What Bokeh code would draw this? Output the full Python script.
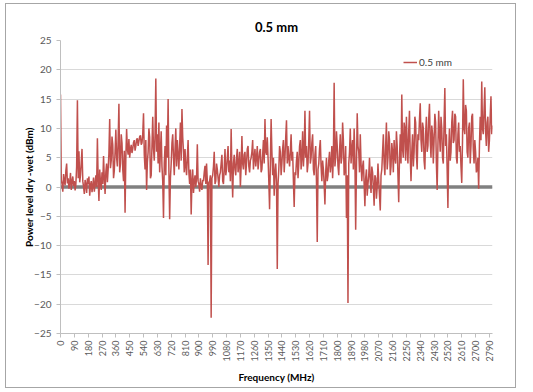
from math import pi

from bokeh.plotting import figure
from bokeh.models import Range1d, FixedTicker, Span, Legend, LegendItem
from bokeh.embed import file_html
from bokeh.resources import INLINE

FONT = "Lato"

# Sweep frequencies (MHz), one reading every 5 MHz
freq_mhz = list(range(0, 2815, 5))

# Power level difference dry - wet (dBm), by band
power_0_895 = [
    15.8, 1.2, 0.5, -0.8, 2.2, 1.0, 0.3, 2.8, 4.0, 0.6, 1.5, -0.3, 0.8, 2.4, -0.5, 0.9, 1.8, 0.2,
    1.0, -0.6, 0.5, 3.5, 14.8, 1.5, 6.1, 0.8, 2.0, 4.2, 6.5, 1.0, 0.0, -1.2, 1.2, 0.4, -1.0, 1.5,
    0.5, 1.8, -1.5, 0.3, 1.0, -0.9, 0.2, 1.6, -0.8, 0.5, 2.0, 0.0, 8.3, 1.2, -2.4, 3.0, 0.8, -0.5,
    2.5, 0.5, 5.3, 1.5, -1.2, 2.6, 4.0, 0.8, 3.0, 5.8, 11.6, 3.2, 4.5, 8.6, 7.2, 1.5, 2.8, 6.0,
    9.8, 5.0, 3.5, 8.0, 14.2, 2.5, 4.0, 9.0, 7.5, 3.0, 1.0, 6.2, -4.4, 5.0, 9.9, 6.5, 5.5, 8.2,
    5.0, 6.4, 7.2, 5.8, 6.5, 7.6, 8.0, 6.2, 7.0, 8.1, 8.3, 7.0, 7.8, 8.6, 8.8, 7.2, 7.5, 9.0,
    12.6, 5.5, 3.0, 8.0, -0.5, 4.2, 6.0, 10.0, 8.5, 1.5, 2.0, 7.0, 12.0, 6.5, 4.5, 9.0, 18.5, 6.0,
    9.0, 4.0, 11.0, 2.5, 6.0, 9.5, 3.5, 1.0, -5.3, 4.0, 7.0, 2.0, 10.5, 5.0, 15.0, 3.0, -5.5, 1.5,
    4.0, 7.5, 9.0, 5.0, 2.0, 6.5, 10.0, 3.5, 8.0, 5.5, 3.0, 7.0, 11.0, 4.5, 13.3, 8.5, 6.0, 2.5,
    6.5, 3.5, 2.0, 5.0, 8.0, 2.5, 0.5, 3.0, -4.7, 1.0, 3.0, -1.0, 1.0, 2.0, 0.0, 1.5, 7.3, 1.0,
]
power_900_1795 = [
    0.5, -0.8, 1.5, 0.0, -0.5, 1.2, 1.0, 2.5, 3.6, 0.5, 4.0, 1.0, -13.3, 0.8, 1.0, 2.0, -22.3, 1.5,
    2.0, 3.5, 6.0, 0.5, 1.0, 4.0, 3.0, 1.5, 0.0, 2.0, 2.5, 4.0, 5.5, 1.0, 0.5, 3.0, 6.5, 2.0,
    3.0, 5.0, 7.0, 2.5, 4.5, 1.0, 9.9, 3.0, -1.8, 4.0, 5.5, 3.0, 2.0, 5.0, 6.5, 2.5, 4.0, 6.0,
    0.0, 3.5, 8.7, 4.0, 3.0, 5.5, 6.0, 2.0, 4.0, 6.5, 7.0, 3.5, 2.5, 4.5, 5.0, 6.0, 8.0, 3.0,
    5.0, 6.5, 3.5, 5.0, 7.0, 3.0, 4.5, 6.0, 6.5, 2.5, 3.0, 5.5, 8.0, 4.0, 11.6, 6.0, 5.5, 8.5,
    5.0, 1.0, -3.8, 4.0, 11.6, 6.0, 2.0, 5.0, -1.5, 2.5, 4.0, 1.0, -14.0, 0.5, 3.0, 7.0, 6.0, 2.0,
    4.0, 6.5, 8.0, 2.5, 5.0, 8.5, 11.4, 4.0, 7.0, 5.0, 3.5, 6.0, 9.0, 4.5, 6.0, 1.0, -3.4, 2.5,
    2.0, 4.5, 6.0, 1.5, 4.0, 7.0, 8.0, 3.0, 5.0, 9.5, 3.5, 6.0, 13.0, 5.0, 7.0, 2.5, 4.0, 8.0,
    13.0, 4.0, 5.0, 7.5, 9.0, 3.0, 2.0, 5.5, 7.0, 1.0, -9.4, 3.0, 4.0, 6.5, 8.0, 3.5, 1.0, 4.5,
    3.0, 0.5, -3.0, 2.5, 5.0, 1.0, 2.0, 4.5, 6.0, 2.5, 4.0, 7.0, 1.5, 5.0, 17.8, 3.5, 5.0, 9.5,
]
power_1800_2810 = [
    7.0, 3.5, 2.0, 6.0, 9.0, 4.0, 5.0, 11.0, 8.0, 2.0, 3.0, 7.0, -5.3, 2.0, -19.8, 4.0, 6.0, 10.0,
    4.0, 6.5, 8.0, 3.0, 10.0, 5.0, -7.3, 3.0, 12.6, 7.0, 6.0, 2.5, 9.0, 4.0, 1.0, 3.5, 4.5, 0.5,
    -3.3, 1.5, 3.0, -1.5, 0.5, 2.0, 5.0, 1.0, -1.0, 3.5, 2.5, 0.0, -3.2, 2.0, 1.5, -2.0, 0.0, 4.0,
    1.0, -1.5, -4.0, 2.0, 3.0, 6.0, 9.0, 4.0, 2.0, 7.0, 11.0, 3.0, 5.0, 9.5, 8.0, 2.0, 3.5, 7.5,
    6.0, 2.5, 8.0, 5.0, 4.0, 9.5, 7.0, 2.0, -2.6, 5.0, 9.0, 4.0, 15.8, 6.5, 5.0, 11.0, 10.0, 4.5,
    12.0, 7.0, 4.0, 9.5, 13.0, 5.0, 1.0, 6.0, 9.0, 3.5, 6.0, 12.0, 11.0, 5.5, 3.0, 9.0, 8.0, 11.5,
    14.3, 8.0, 6.0, 11.0, 10.0, 4.5, 3.0, 9.0, 12.0, 6.0, 7.0, 11.5, 14.2, 8.0, 5.0, 10.5, 9.0, 4.0,
    8.0, 12.5, 11.0, 4.0, -0.5, 7.0, 13.0, 9.0, 6.0, 12.0, 10.0, 5.0, 4.0, 11.0, 16.9, 7.0, 9.0, 3.0,
    -3.6, 6.0, 10.0, 4.5, 6.0, 11.0, 13.0, 7.5, 8.0, 12.5, 12.0, 5.0, 4.0, 9.0, 11.0, 6.0, 7.0, 3.5,
    0.7, 8.0, 18.4, 10.0, 9.0, 14.0, 13.0, 6.0, 5.0, 10.0, 11.0, 4.0, 7.0, 12.0, 12.5, 6.5, 4.0, 8.0,
    6.0, 2.5, 3.0, 5.0, -0.3, 7.0, 12.0, 8.0, 18.0, 10.0, 9.0, 13.0, 17.0, 9.5, 7.0, 11.0, 12.0, 6.0,
    8.0, 12.0, 15.5, 9.0, 10.5,
]
power_dbm = power_0_895 + power_900_1795 + power_1800_2810

x_ticks = list(range(0, 2800, 90))
y_ticks = list(range(-25, 30, 5))

p = figure(
    width=511, height=385,
    output_backend="svg", toolbar_location=None,
    x_range=Range1d(0, 2810), y_range=Range1d(-25, 25),
    min_border_left=54, min_border_right=25,
    min_border_top=36, min_border_bottom=56,
)
p.margin = (3, 0, 0, 5)
p.styles = {"border": "1px solid #a6a6a6"}
p.outline_line_color = None
p.background_fill_color = "white"
p.border_fill_color = "white"

# Title
p.title.text = "0.5 mm"
p.title.align = "center"
p.title.offset = -10
p.title.standoff = 12
p.title.text_font = FONT
p.title.text_font_size = "13px"
p.title.text_font_style = "bold"
p.title.text_color = "#000000"

# Grid
p.xgrid.visible = False
p.ygrid.ticker = FixedTicker(ticks=y_ticks)
p.ygrid.grid_line_color = "#d9d9d9"
p.ygrid.grid_line_width = 1

# Y axis
p.yaxis.ticker = FixedTicker(ticks=y_ticks)
p.yaxis.axis_label = "Power level dry -wet (dBm)"
p.yaxis.axis_label_text_font = FONT
p.yaxis.axis_label_text_font_size = "10px"
p.yaxis.axis_label_text_font_style = "bold"
p.yaxis.axis_label_text_color = "#000000"
p.yaxis.axis_label_standoff = -4
p.yaxis.major_label_text_font = FONT
p.yaxis.major_label_text_font_size = "10px"
p.yaxis.major_label_text_color = "#595959"
p.yaxis.major_label_standoff = 5
p.yaxis.axis_line_color = "#bfbfbf"
p.yaxis.major_tick_line_color = "#bfbfbf"
p.yaxis.major_tick_out = 4
p.yaxis.major_tick_in = 0
p.yaxis.minor_tick_line_color = None

# X axis
p.xaxis.ticker = FixedTicker(ticks=x_ticks)
p.xaxis.axis_label = "Frequency (MHz)"
p.xaxis.axis_label_text_font = FONT
p.xaxis.axis_label_text_font_size = "10px"
p.xaxis.axis_label_text_font_style = "bold"
p.xaxis.axis_label_text_color = "#000000"
p.xaxis.axis_label_standoff = 7
p.xaxis.major_label_orientation = pi / 2
p.xaxis.major_label_text_font = FONT
p.xaxis.major_label_text_font_size = "9px"
p.xaxis.major_label_text_color = "#595959"
p.xaxis.major_label_standoff = 3
p.xaxis.axis_line_color = "#bfbfbf"
p.xaxis.major_tick_line_color = "#bfbfbf"
p.xaxis.major_tick_out = 4
p.xaxis.major_tick_in = 0
p.xaxis.minor_tick_line_color = None

# Zero reference line, under the series
p.add_layout(Span(location=0, dimension="width", line_color="#808080",
                  line_width=3.5, level="underlay"))

series = p.line(freq_mhz, power_dbm, line_color="#c0504d", line_width=1.5)

legend = Legend(
    items=[LegendItem(label="0.5 mm", renderers=[series])],
    location=(343, 265),
    label_text_font=FONT, label_text_font_size="10px", label_text_color="#404040",
    background_fill_alpha=0, border_line_color=None,
    padding=0, margin=0, spacing=0,
    glyph_width=14, glyph_height=10, label_height=10, label_standoff=2,
)
p.add_layout(legend)

open("out.html", "w").write(file_html(p, INLINE))
